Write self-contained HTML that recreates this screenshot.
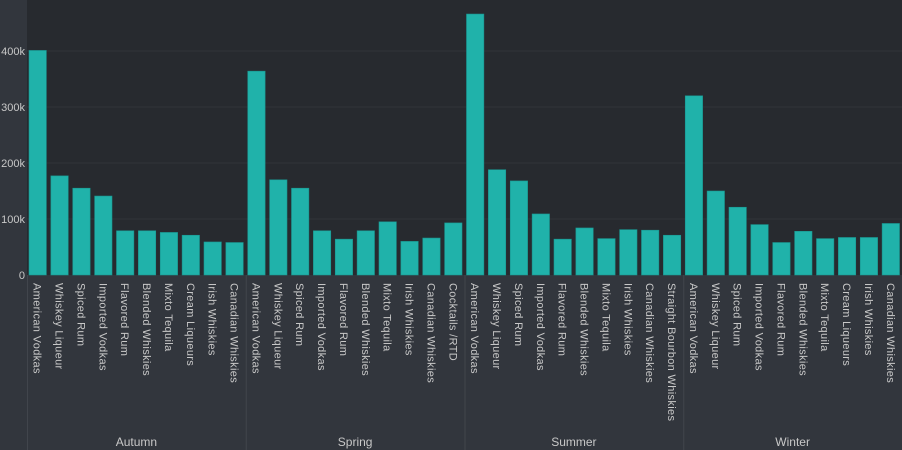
<!DOCTYPE html>
<html><head><meta charset="utf-8"><style>
html,body{margin:0;padding:0;background:#32363d;}
svg{display:block;font-family:"Liberation Sans","DejaVu Sans",sans-serif;}
</style></head><body>
<svg id="chart" width="902" height="450">
<rect x="0" y="0" width="902" height="450" fill="#32363d"/>
<rect x="27" y="0" width="875" height="275" fill="#272a2f"/>
<g id="grid"></g><g id="bars"></g><g id="axes"></g>
</svg>
<script>
const groups = ["Autumn","Spring","Summer","Winter"];
const categories = [
 ["American Vodkas","Whiskey Liqueur","Spiced Rum","Imported Vodkas","Flavored Rum","Blended Whiskies","Mixto Tequila","Cream Liqueurs","Irish Whiskies","Canadian Whiskies"],
 ["American Vodkas","Whiskey Liqueur","Spiced Rum","Imported Vodkas","Flavored Rum","Blended Whiskies","Mixto Tequila","Irish Whiskies","Canadian Whiskies","Cocktails /RTD"],
 ["American Vodkas","Whiskey Liqueur","Spiced Rum","Imported Vodkas","Flavored Rum","Blended Whiskies","Mixto Tequila","Irish Whiskies","Canadian Whiskies","Straight Bourbon Whiskies"],
 ["American Vodkas","Whiskey Liqueur","Spiced Rum","Imported Vodkas","Flavored Rum","Blended Whiskies","Mixto Tequila","Cream Liqueurs","Irish Whiskies","Canadian Whiskies"]
];
const values = [
 [401000,177000,155000,141000,79000,79000,76000,71000,59000,58000],
 [364000,170000,155000,79000,64000,79000,95000,60000,66000,93000],
 [466000,188000,168000,109000,64000,84000,65000,81000,80000,71000],
 [320000,150000,121000,90000,58000,78000,65000,67000,67000,92000]
];
const yTicks = [0,100000,200000,300000,400000];
const yTickLabels = ["0","100k","200k","300k","400k"];

const NS="http://www.w3.org/2000/svg";
const x0=27,x1=902,yZero=275,pxPer=56/100000;
const y=v=>yZero-v*pxPer;
const total=categories.reduce((a,c)=>a+c.length,0);
const step=(x1-x0)/total;
function mk(t,a,p){const e=document.createElementNS(NS,t);for(const k in a)e.setAttribute(k,a[k]);p.appendChild(e);return e;}
const grid=document.getElementById('grid'),bars=document.getElementById('bars'),axes=document.getElementById('axes');
yTicks.forEach((t,i)=>{
 if(t>0){const l=mk('line',{x1:x0,x2:x1,y1:y(t),y2:y(t),stroke:'#30343a','stroke-width':1},grid);
 
 }
 const tx=mk('text',{x:25,y:y(t)+4,'text-anchor':'end','font-size':11,fill:'#c8c8c8'},axes);
 tx.textContent=yTickLabels[i];
 
 
});
let idx=0;
groups.forEach((g,gi)=>{
 const gStart=x0+idx*step;
 const sep=mk('line',{x1:gStart+0.5,x2:gStart+0.5,y1:275,y2:450,stroke:'#41454c','stroke-width':1},axes);
 
 
 categories[gi].forEach((c,ci)=>{
  const bx=x0+idx*step+2;
  const v=values[gi][ci];
  const r=mk('rect',{x:bx,y:y(v),width:step-4.5,height:yZero-y(v),fill:'#20b2aa',stroke:'#1a9690','stroke-width':0.6},bars);
  
  
  const lx=bx+(step-4.5)/2;
  const t=mk('text',{x:0,y:0,transform:`translate(${lx-4},283) rotate(90)`,'font-size':11,'letter-spacing':0.35,fill:'#c8c8c8'},axes);
  t.textContent=c;
  
  
  idx++;
 });
 const gEnd=x0+idx*step;
 const gl=mk('text',{x:(gStart+gEnd)/2,y:446,'text-anchor':'middle','font-size':12,fill:'#c8c8c8'},axes);
 gl.textContent=g;
 
 
});
</script>
</body></html>
